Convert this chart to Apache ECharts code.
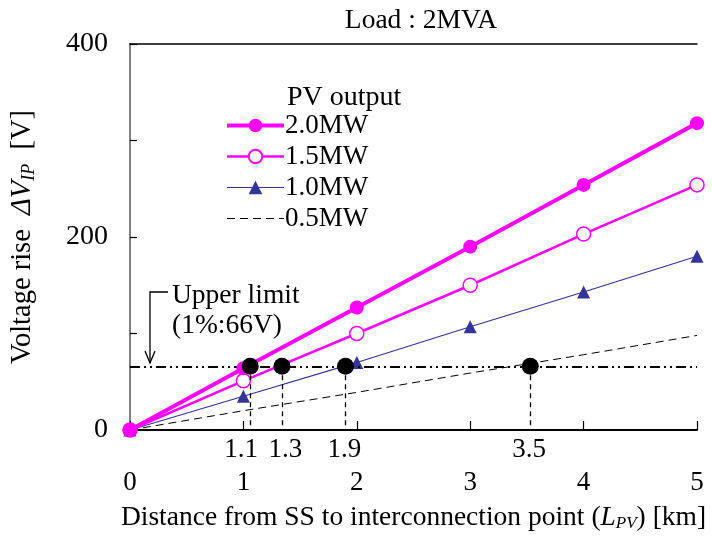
<!DOCTYPE html>
<html>
<head>
<meta charset="utf-8">
<script src="https://cdn.jsdelivr.net/npm/echarts@6/dist/echarts.min.js"></script>
<style>
  html, body { margin: 0; padding: 0; background: #fff; }
  #chart { width: 712px; height: 537px; }
</style>
</head>
<body>
<div id="chart"></div>
<script>
// distance from SS (km)
const distances = [0, 1, 2, 3, 4, 5];

// voltage rise (V) for each PV output
const pv20 = [0, 64, 127, 190, 254, 318];
const pv15 = [0, 51, 100, 150, 203, 254];
const pv10 = [0, 35, 70, 107, 143, 180];
const pv05 = [0, 20, 39, 59, 78, 98];

const seriesNames = ['2.0MW', '1.5MW', '1.0MW', '0.5MW'];

// upper limit and crossing points
const upperLimit = 66;
const crossX = [1.06, 1.34, 1.9, 3.53];
const crossText = ['1.1', '1.3', '1.9', '3.5'];
const crossLabelX = [0.98, 1.37, 1.89, 3.52];

const yLabels = [0, 200, 400];

const FONT = 'Liberation Serif';

const toPairs = (ys) => ys.map((y, i) => [distances[i], y]);

const chart = echarts.init(document.getElementById('chart'));

const option = {
  animation: false,
  textStyle: { fontFamily: FONT, color: '#000' },
  title: [
    {
      text: 'Load : 2MVA',
      left: 416, top: 2, textAlign: 'center',
      textStyle: { fontFamily: FONT, fontSize: 27.5, fontWeight: 'normal', color: '#000' }
    },
    {
      text: 'PV output',
      left: 282, top: 79,
      textStyle: { fontFamily: FONT, fontSize: 28, fontWeight: 'normal', color: '#000' }
    }
  ],
  legend: {
    orient: 'vertical',
    left: 220, top: 107,
    itemWidth: 57, itemHeight: 17,
    itemGap: 4,
    data: [
      seriesNames[0], seriesNames[1], seriesNames[2],
      { name: seriesNames[3], itemStyle: { opacity: 0 } }
    ],
    lineStyle: { width: 'inherit' },
    textStyle: { fontFamily: FONT, fontSize: 27, color: '#000', lineHeight: 23, padding: [0, 0, 0, -4] }
  },
  grid: { left: 130, top: 44, width: 567, height: 389 },
  xAxis: [
    {
      type: 'value', min: 0, max: 5, interval: 1,
      name: '{n|Distance from SS to interconnection point (}{i|L}{s|PV}{n|) [km]}',
      nameLocation: 'middle', nameGap: 74,
      nameTextStyle: {
        rich: {
          n: { fontFamily: FONT, fontSize: 27.5, lineHeight: 28, color: '#000' },
          i: { fontFamily: FONT, fontSize: 27.5, fontStyle: 'italic', lineHeight: 28, color: '#000' },
          s: { fontFamily: FONT, fontSize: 17, fontStyle: 'italic', lineHeight: 14, verticalAlign: 'bottom', color: '#000' }
        }
      },
      axisLine: { lineStyle: { color: '#000', width: 2 } },
      axisTick: { inside: true, length: 9, lineStyle: { color: '#000', width: 1.2 } },
      axisLabel: { margin: 39, fontFamily: FONT, fontSize: 27, color: '#000' },
      splitLine: { show: false }
    },
    {
      // crossing labels below the axis
      type: 'value', min: 0, max: 5, position: 'bottom',
      axisLine: { show: false }, axisTick: { show: false }, splitLine: { show: false },
      axisLabel: {
        margin: 6, fontFamily: FONT, fontSize: 27, color: '#000',
        customValues: crossLabelX,
        formatter: (v) => {
          const k = crossLabelX.findIndex(c => Math.abs(c - v) < 1e-6);
          return k >= 0 ? crossText[k] : '';
        }
      }
    },
    {
      type: 'value', min: 0, max: 5, position: 'top',
      axisLine: { lineStyle: { color: '#000', width: 1.5 } },
      axisTick: { show: false }, axisLabel: { show: false }, splitLine: { show: false }
    }
  ],
  yAxis: [
    {
      type: 'value', min: 0, max: 400, interval: 100,
      name: '{n|Voltage rise  }{i|ΔV}{s|IP}{n|  [V]}',
      nameLocation: 'middle', nameGap: 92, nameRotate: 90,
      nameTextStyle: {
        rich: {
          n: { fontFamily: FONT, fontSize: 28.5, lineHeight: 30, color: '#000' },
          i: { fontFamily: FONT, fontSize: 28.5, fontStyle: 'italic', lineHeight: 30, color: '#000' },
          s: { fontFamily: FONT, fontSize: 18, fontStyle: 'italic', lineHeight: 14, verticalAlign: 'bottom', color: '#000' }
        }
      },
      axisLine: { show: true, lineStyle: { color: '#000', width: 2 } },
      axisTick: { inside: true, length: 7, lineStyle: { color: '#000', width: 1.2 } },
      axisLabel: {
        margin: 22, fontFamily: FONT, fontSize: 28, color: '#000',
        formatter: (v) => (yLabels.includes(v) ? String(v) : '')
      },
      splitLine: { show: false }
    },
    {
      type: 'value', min: 0, max: 400, position: 'right',
      axisLine: { show: true, lineStyle: { color: '#808080', width: 2 } },
      axisTick: { show: false }, axisLabel: { show: false }, splitLine: { show: false }
    }
  ],
  series: [
    {
      name: seriesNames[0], type: 'line', data: toPairs(pv20),
      symbol: 'circle', symbolSize: 14, z: 5,
      lineStyle: { color: '#ff00ff', width: 4 },
      itemStyle: { color: '#ff00ff' }
    },
    {
      name: seriesNames[1], type: 'line', data: toPairs(pv15),
      symbol: 'circle', symbolSize: 14, z: 4,
      lineStyle: { color: '#ff00ff', width: 2.5 },
      itemStyle: { color: '#fff', borderColor: '#ff00ff', borderWidth: 1.5 }
    },
    {
      name: seriesNames[2], type: 'line', data: toPairs(pv10),
      symbol: 'triangle', symbolSize: 13, z: 3,
      lineStyle: { color: '#333399', width: 1.2 },
      itemStyle: { color: '#333399' }
    },
    {
      name: seriesNames[3], type: 'line', data: toPairs(pv05),
      symbol: 'none', z: 2,
      lineStyle: { color: '#000', width: 1, type: [8, 5] },
      itemStyle: { color: '#000' },
      markLine: {
        silent: true, symbol: 'none', label: { show: false },
        lineStyle: { color: '#000', width: 2, type: [10, 4, 2, 4, 2, 4] },
        data: [{ yAxis: upperLimit }]
      }
    },
    {
      name: 'crossing', type: 'scatter',
      data: crossX.map(x => [x, upperLimit]),
      symbol: 'circle', symbolSize: 17, z: 6,
      itemStyle: { color: '#000', opacity: 1 },
      markLine: {
        silent: true, symbol: 'none', label: { show: false },
        lineStyle: { color: '#000', width: 1.3, type: [5, 4] },
        data: crossX.map(x => [{ coord: [x, upperLimit] }, { coord: [x, 0] }])
      }
    }
  ],
  graphic: [
    {
      type: 'polyline',
      shape: { points: [[168, 292], [150, 292], [150, 363]] },
      style: { stroke: '#000', lineWidth: 1.3, fill: null }
    },
    {
      type: 'polyline',
      shape: { points: [[145, 351], [150, 363], [155, 351]] },
      style: { stroke: '#000', lineWidth: 1.3, fill: null }
    },
    {
      type: 'text', left: 172, top: 282,
      style: { text: 'Upper limit', font: '27.5px "Liberation Serif"', fill: '#000' }
    },
    {
      type: 'text', left: 172, top: 312,
      style: { text: '(1%:66V)', font: '27.5px "Liberation Serif"', fill: '#000' }
    }
  ]
};

chart.setOption(option);
</script>
</body>
</html>
